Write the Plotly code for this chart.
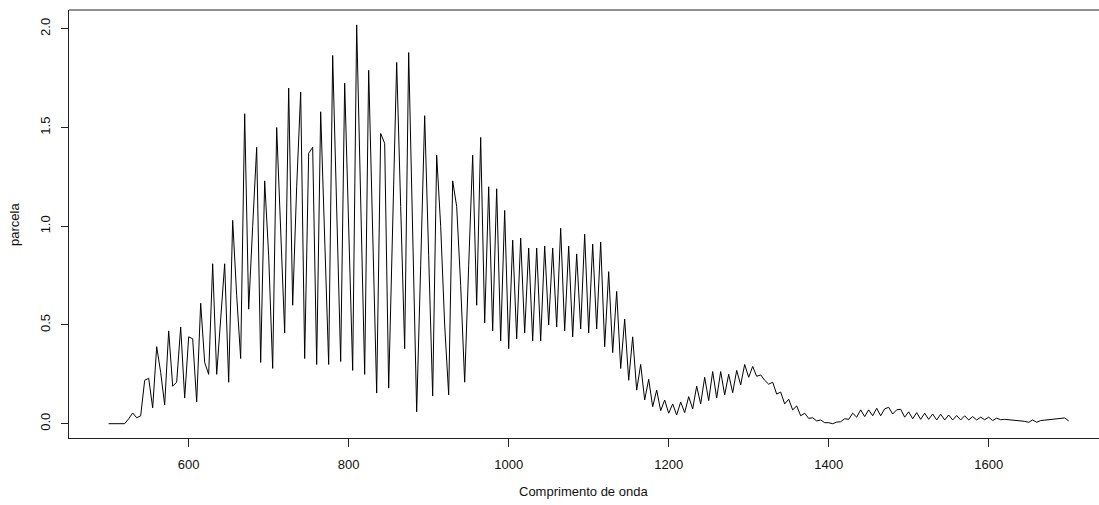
import numpy as np
import plotly.graph_objects as go

# Wavelength grid (nm), 5 nm step
comprimento = np.arange(500, 1705, 5)

# Contribution ("parcela") at each wavelength
parcela = [
    0, 0, 0, 0, 0, 0.025, 0.054, 0.03, 0.04, 0.22,
    0.23, 0.08, 0.39, 0.26, 0.095, 0.47, 0.19, 0.21, 0.49, 0.13,
    0.44, 0.43, 0.11, 0.61, 0.31, 0.25, 0.81, 0.25, 0.52, 0.81,
    0.21, 1.03, 0.65, 0.33, 1.57, 0.58, 1.00, 1.40, 0.31, 1.23,
    0.85, 0.28, 1.50, 0.95, 0.46, 1.70, 0.60, 1.20, 1.68, 0.33,
    1.37, 1.40, 0.30, 1.58, 0.90, 0.30, 1.865, 1.05, 0.315, 1.725,
    1.00, 0.27, 2.02, 1.10, 0.25, 1.79, 0.95, 0.155, 1.47, 1.42,
    0.18, 1.00, 1.83, 1.10, 0.38, 1.88, 1.00, 0.06, 0.80, 1.56,
    0.85, 0.14, 1.36, 1.00, 0.50, 0.146, 1.23, 1.10, 0.70, 0.21,
    0.80, 1.36, 0.60, 1.45, 0.51, 1.20, 0.47, 1.19, 0.42, 1.08,
    0.38, 0.93, 0.43, 0.94, 0.46, 0.89, 0.42, 0.89, 0.42, 0.90,
    0.50, 0.89, 0.49, 0.99, 0.47, 0.90, 0.44, 0.86, 0.48, 0.96,
    0.46, 0.91, 0.48, 0.92, 0.39, 0.77, 0.36, 0.67, 0.28, 0.53,
    0.22, 0.44, 0.17, 0.30, 0.12, 0.225, 0.086, 0.17, 0.066, 0.12,
    0.053, 0.10, 0.044, 0.11, 0.056, 0.137, 0.075, 0.19, 0.10, 0.235,
    0.117, 0.264, 0.13, 0.264, 0.146, 0.25, 0.157, 0.27, 0.197, 0.30,
    0.235, 0.29, 0.24, 0.247, 0.22, 0.20, 0.21, 0.15, 0.16, 0.10,
    0.124, 0.07, 0.09, 0.04, 0.053, 0.027, 0.03, 0.014, 0.019, 0.005,
    0.005, 0.0, 0.008, 0.01, 0.025, 0.022, 0.053, 0.033, 0.07, 0.036,
    0.07, 0.04, 0.078, 0.04, 0.075, 0.083, 0.049, 0.07, 0.073, 0.033,
    0.06, 0.025, 0.056, 0.022, 0.053, 0.022, 0.049, 0.019, 0.048, 0.019,
    0.044, 0.019, 0.041, 0.019, 0.04, 0.019, 0.036, 0.019, 0.033, 0.02,
    0.033, 0.016, 0.028, 0.02, 0.022, 0.02, 0.02, 0.018, 0.014, 0.012,
    0.007, 0.019, 0.007, 0.016, 0.018, 0.02, 0.024, 0.027, 0.029, 0.029,
    0.014,
]

x_ticks = [600, 800, 1000, 1200, 1400, 1600]
y_ticks = [0.0, 0.5, 1.0, 1.5, 2.0]
y_tick_text = ["0.0", "0.5", "1.0", "1.5", "2.0"]

FONT = "Arial, Liberation Sans, sans-serif"

fig = go.Figure(
    go.Scatter(
        x=comprimento,
        y=parcela,
        mode="lines",
        line=dict(color="black", width=1),
        hoverinfo="skip",
    )
)

fig.update_layout(
    width=1099,
    height=505,
    margin=dict(l=69, r=0, t=10, b=67),
    paper_bgcolor="white",
    plot_bgcolor="white",
    showlegend=False,
    font=dict(family=FONT, size=13, color="#111"),
    xaxis=dict(
        range=[450.4, 1737.9],
        tickvals=x_ticks,
        ticks="outside",
        ticklen=8,
        tickwidth=1,
        tickcolor="#222",
        ticklabelstandoff=6,
        showgrid=False,
        zeroline=False,
        showline=True,
        linecolor="#222",
        linewidth=1,
    ),
    yaxis=dict(
        range=[-0.0725, 2.0955],
        tickvals=y_ticks,
        ticktext=y_tick_text,
        tickangle=-90,
        ticks="outside",
        ticklen=7,
        tickwidth=1,
        tickcolor="#222",
        ticklabelstandoff=6,
        showgrid=False,
        zeroline=False,
        showline=True,
        linecolor="#222",
        linewidth=1,
    ),
    shapes=[
        dict(type="line", xref="paper", yref="paper", x0=0, x1=1, y0=1, y1=1,
             line=dict(color="#222", width=1)),
    ],
    annotations=[
        dict(text="Comprimento de onda", xref="paper", yref="paper",
             x=(583 - 69) / 1030, y=-(491 - 438) / 428, xanchor="center",
             yanchor="middle", showarrow=False, font=dict(size=13)),
        dict(text="parcela", xref="paper", yref="paper",
             x=-(69 - 15) / 1030, y=(438 - 225) / 428, xanchor="center",
             yanchor="middle", textangle=-90, showarrow=False,
             font=dict(size=13)),
    ],
)

fig.write_html("out.html")
